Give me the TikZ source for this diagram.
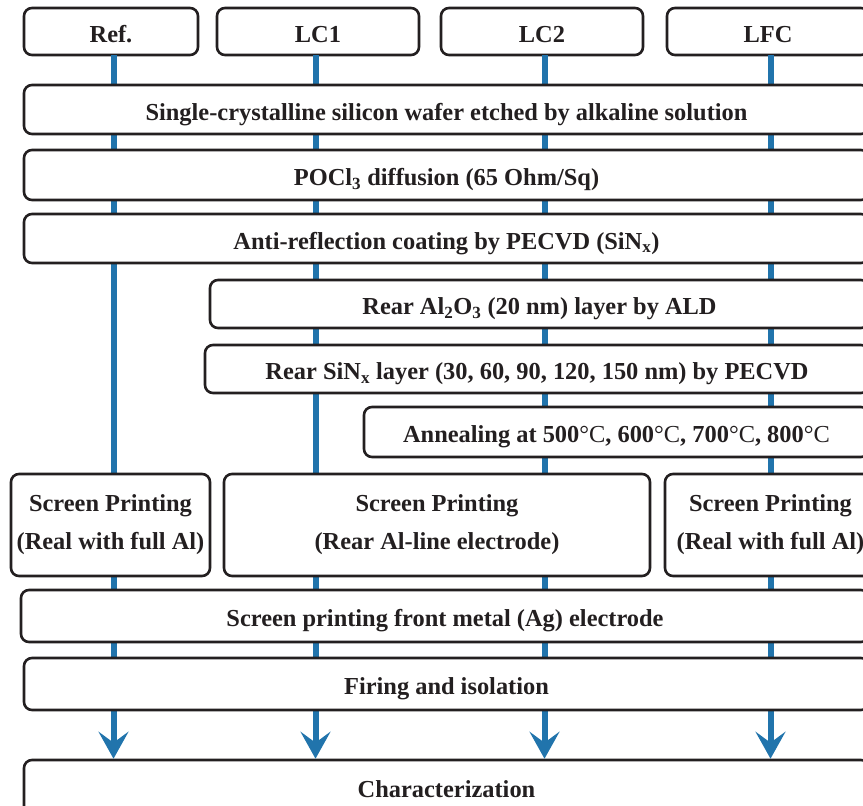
\documentclass[tikz,border=0pt]{standalone}
\usepackage{fontspec}
\setmainfont{Liberation Serif}
\usetikzlibrary{arrows.meta}
\definecolor{flow}{RGB}{33,116,172}
\definecolor{ink}{RGB}{35,31,32}
\begin{document}
\begin{tikzpicture}[x=1pt,y=-1pt,
  box/.style={draw=ink, line width=2.6pt, rounded corners=8pt, fill=white,
    font=\fontsize{24.4}{38}\selectfont\bfseries, text=ink, inner sep=0pt, align=center},
  onebox/.style={box, text height=23pt, text depth=2pt},
  flowline/.style={draw=flow, line width=6pt},
  flowarrow/.style={flowline, -{Stealth[length=27pt,width=30pt,inset=11pt]}}]
\useasboundingbox (0,0) rectangle (863,806);
\clip (0,0) rectangle (863,806);
% header boxes
\node[onebox, minimum width=174pt, minimum height=47pt] (ref) at (111,31.5) {Ref.};
\node[onebox, minimum width=202pt, minimum height=47pt] (lc1) at (318,31.5) {LC1};
\node[onebox, minimum width=202pt, minimum height=47pt] (lc2) at (542,31.5) {LC2};
\node[onebox, minimum width=202pt, minimum height=47pt] (lfc) at (768,31.5) {LFC};
\node[onebox, minimum width=845pt, minimum height=54pt] (char) at (446.5,787) {Characterization};
% flow lines
\coordinate (t1) at (113.5,55);
\coordinate (t2) at (315.5,55);
\coordinate (t3) at (544.5,55);
\coordinate (t4) at (770.5,55);
\draw[flowarrow] (t1) -- (t1 |- char.north);
\draw[flowarrow] (t2) -- (t2 |- char.north);
\draw[flowarrow] (t3) -- (t3 |- char.north);
\draw[flowarrow] (t4) -- (t4 |- char.north);
% process boxes
\node[onebox, minimum width=845pt, minimum height=49pt] (wafer) at (446.5,109.5) {Single-crystalline silicon wafer etched by alkaline solution};
\node[onebox, minimum width=845pt, minimum height=50pt] (pocl) at (446.5,175) {POCl\textsubscript{3} diffusion (65 Ohm/Sq)};
\node[onebox, minimum width=845pt, minimum height=49pt] (arc) at (446.5,238.5) {Anti-reflection coating by PECVD (SiN\textsubscript{x})};
\node[onebox, minimum width=659pt, minimum height=48pt] (alo) at (539.5,304) {Rear Al\textsubscript{2}O\textsubscript{3} (20 nm) layer by ALD};
\node[onebox, minimum width=664pt, minimum height=48pt] (sinx) at (537,369) {Rear SiN\textsubscript{x} layer (30, 60, 90, 120, 150 nm) by PECVD};
\node[onebox, minimum width=505pt, minimum height=50pt] (anneal) at (616.5,432) {Annealing at 500{\mdseries °C}, 600{\mdseries °C}, 700{\mdseries °C}, 800{\mdseries °C}};
\node[box, minimum width=199pt, minimum height=102pt] (sp1) at (110.5,525) {Screen Printing\\(Real with full Al)};
\node[box, minimum width=426pt, minimum height=102pt] (sp2) at (437,525) {Screen Printing\\(Rear Al-line electrode)};
\node[box, minimum width=211pt, minimum height=102pt] (sp3) at (770.5,525) {Screen Printing\\(Real with full Al)};
\node[onebox, minimum width=848pt, minimum height=52pt] (front) at (445,616) {Screen printing front metal (Ag) electrode};
\node[onebox, minimum width=845pt, minimum height=52pt] (firing) at (446.5,684) {Firing and isolation};
\end{tikzpicture}
\end{document}
